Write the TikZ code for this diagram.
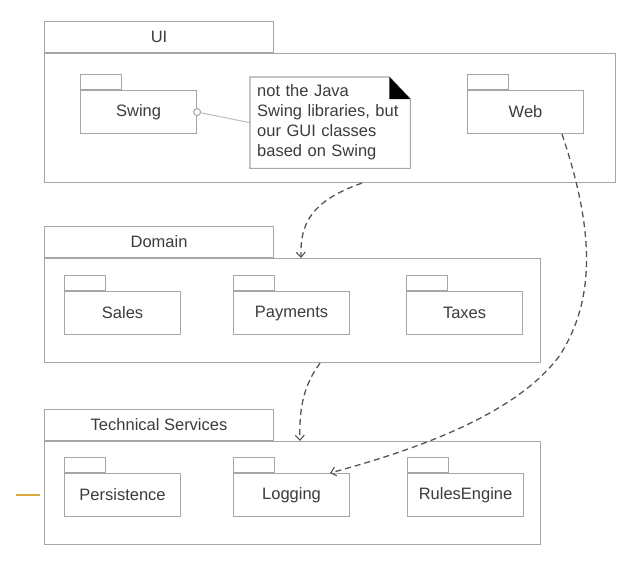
\documentclass[tikz,border=0pt]{standalone}
\usepackage{fontspec}
\setmainfont{Liberation Sans}
\usetikzlibrary{arrows.meta,calc}
\definecolor{boxgray}{HTML}{A6A6A6}
\definecolor{lightline}{HTML}{BDBDBD}
\definecolor{txt}{HTML}{3C3C3C}
\definecolor{depc}{HTML}{555555}
\definecolor{gold}{HTML}{D9A83F}
\begin{document}
\begin{tikzpicture}[x=1pt,y=-1pt,
  lbl/.style={font=\fontsize{16.5}{20}\selectfont, text=txt},
  box/.style={draw=boxgray, line width=1.1pt, fill=white, inner sep=0pt, lbl},
  pkg/.style={box, anchor=north west, minimum width=116pt, minimum height=43pt},
  ptab/.style={box, anchor=south west, minimum width=41pt, minimum height=15pt},
  bigtab/.style={box, anchor=south west, minimum width=229pt, minimum height=31pt},
  depline/.style={draw=depc, line width=1.3pt, dash pattern=on 6pt off 4pt,
    -{Straight Barb[length=5pt,width=9pt,line width=1.1pt]}}
]
\fill[white] (0,0) rectangle (642,570);
\useasboundingbox (0,0) rectangle (642,570);

% UI layer
\node[box, anchor=north west, minimum width=571pt, minimum height=129pt] (ui) at (44,53) {};
\node[bigtab] (uitab) at (ui.north west) {UI};
\node[pkg] (swing) at (80,90) {Swing};
\node[ptab] (swingtab) at (swing.north west) {};
\node[pkg] (web) at (467,90) {Web};
\node[ptab] (webtab) at (web.north west) {};

% note
\node[lbl, anchor=north west, minimum width=160pt, minimum height=91pt, text width=146pt,
  align=left, inner xsep=7pt, inner ysep=0pt] (note) at (250,77)
  {not the Java\\Swing libraries, but\\our GUI classes\\based on Swing};
\draw[boxgray, line width=1.1pt] (note.north west) -- ($(note.north east)+(-21,0)$)
  -- ($(note.north east)+(0,22)$) -- (note.south east) -- (note.south west) -- cycle;
\fill[black] ($(note.north east)+(-21,0)$) -- ($(note.north east)+(-21,22)$)
  -- ($(note.north east)+(0,22)$) -- cycle;
\node[circle, draw=boxgray, fill=white, line width=1pt, minimum size=7pt, inner sep=0pt]
  (lollipop) at (swing.east) {};
\draw[lightline, line width=1pt] (lollipop) -- (note.west);

% Domain layer
\node[box, anchor=north west, minimum width=496pt, minimum height=104pt] (domain) at (44,258) {};
\node[bigtab] (domaintab) at (domain.north west) {Domain};
\node[pkg] (sales) at (64,291) {Sales};
\node[ptab] (salestab) at (sales.north west) {};
\node[pkg] (payments) at (233,291) {Payments};
\node[ptab] (paymentstab) at (payments.north west) {};
\node[pkg] (taxes) at (406,291) {Taxes};
\node[ptab] (taxestab) at (taxes.north west) {};

% Technical Services layer
\node[box, anchor=north west, minimum width=496pt, minimum height=103pt] (ts) at (44,441) {};
\node[bigtab] (tstab) at (ts.north west) {Technical Services};
\node[pkg] (persistence) at (64,473) {Persistence};
\node[ptab] (persistencetab) at (persistence.north west) {};
\node[pkg] (logging) at (233,473) {Logging};
\node[ptab] (loggingtab) at (logging.north west) {};
\node[pkg] (rules) at (407,473) {RulesEngine};
\node[ptab] (rulestab) at (rules.north west) {};

% dependencies
\coordinate (a1s) at ($(ui.south west)+(318,0)$);
\coordinate (a1e) at ($(domain.north west)+(257,0)$);
\draw[depline] (a1s) .. controls +(-52,18) and +(-1,-33) .. (a1e);

\coordinate (a2s) at ($(domain.south west)+(276,0)$);
\coordinate (a2e) at ($(ts.north west)+(256,0)$);
\draw[depline] (a2s) .. controls +(-17,23) and +(-1,-31) .. (a2e);

\coordinate (a3s) at ($(web.south west)+(95,0)$);
\coordinate (a3e) at ($(logging.north west)+(97,0)$);
\coordinate (a3m) at (560,355);
\draw[depline] (a3s) .. controls +(33,98) and +(35,-55) .. (a3m)
  .. controls +(-40,55) and +(100,-27) .. (a3e);

% stray slide marker
\draw[gold, line width=2pt] (16,495) -- (40,495);
\end{tikzpicture}
\end{document}
